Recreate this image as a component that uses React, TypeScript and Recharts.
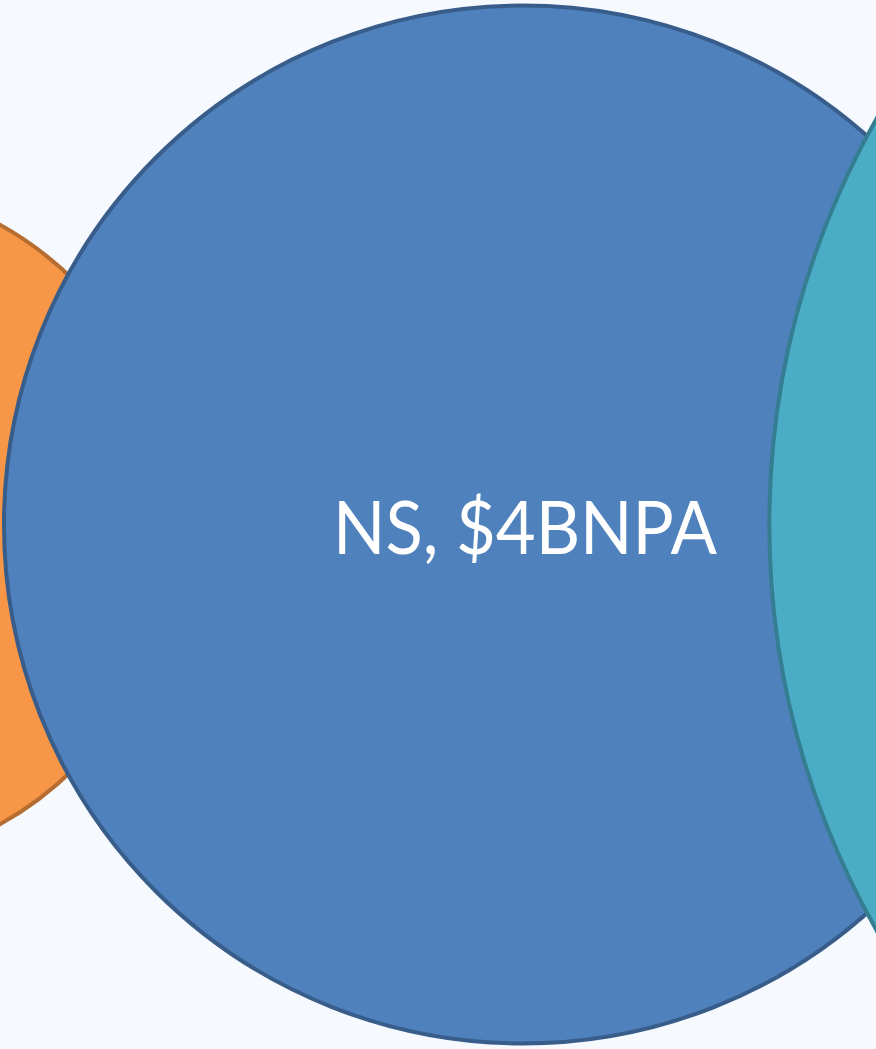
import React from "react";
import { ScatterChart, Scatter, XAxis, YAxis, ZAxis } from "recharts";

// Bubble series (x/y in chart units, z = value in $B)
const names = ["Orange", "NS", "Teal"];
const xValues = [-19.1, 59.7, 181.5];
const yValues = [50, 50, 50];
const zValues = [1.75, 4, 10];
const labels = ["", "NS, $4BNPA", ""];

const fills = ["#f79646", "#4f81bd", "#4bacc6"];
const strokes = ["#b66d31", "#385d8a", "#357d91"];

const W = 876;
const H = 1049;

const makeData = (i: number) => [
  { name: names[i], x: xValues[i], y: yValues[i], z: zValues[i], label: labels[i] },
];

const BubbleShape = (idx: number) => (props: any) => {
  const { cx, cy, size, payload } = props;
  const r = Math.sqrt(Math.max(size || 0, 0) / Math.PI);
  const label = payload?.label;
  return (
    <g>
      <circle cx={cx} cy={cy} r={r} fill={fills[idx]} stroke={strokes[idx]} strokeWidth={4} />
      {label ? (
        <text
          x={cx + 2}
          y={cy + 29}
          textAnchor="middle"
          fill="#ffffff"
          fontFamily="Lato, 'Open Sans', sans-serif"
          fontSize={74}
          textLength={384}
          lengthAdjust="spacingAndGlyphs"
          style={{ whiteSpace: "pre" }}
        >
          {label}
        </text>
      ) : null}
    </g>
  );
};

export default function App() {
  return (
    <div
      style={{
        position: "absolute",
        left: 0,
        top: 0,
        width: W,
        height: H,
        overflow: "hidden",
        background: "#f6f9fe",
      }}
    >
      <ScatterChart width={W} height={H} margin={{ top: 0, right: 0, bottom: 0, left: 0 }}>
        <XAxis type="number" dataKey="x" domain={[0, 100]} allowDataOverflow hide />
        <YAxis type="number" dataKey="y" domain={[0, 100]} allowDataOverflow hide />
        <ZAxis type="number" dataKey="z" domain={[0, 10]} range={[0, 2115575]} />
        {[0, 1, 2].map((i) => (
          <Scatter
            key={names[i]}
            name={names[i]}
            data={makeData(i)}
            shape={BubbleShape(i)}
            isAnimationActive={false}
          />
        ))}
      </ScatterChart>
    </div>
  );
}
